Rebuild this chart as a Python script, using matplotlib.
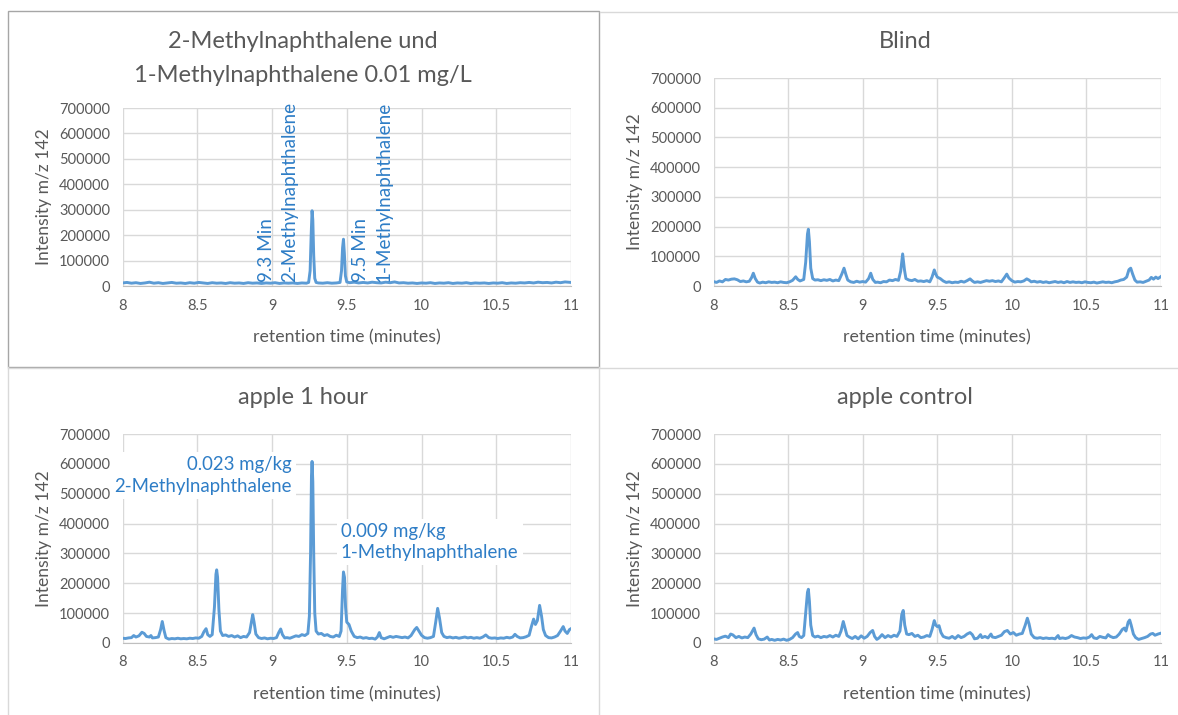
import matplotlib
matplotlib.use('Agg')
import matplotlib.pyplot as plt
from matplotlib.lines import Line2D
from matplotlib.patches import Rectangle

plt.rcParams['font.family'] = ['Lato', 'DejaVu Sans']

# chromatogram traces (retention time in min, intensity m/z 142)
standard_trace = [
    (8.00, 12000), (8.03, 14000), (8.06, 11000), (8.09, 13000), (8.12, 10000), (8.15, 12000),
    (8.18, 15000), (8.21, 11000), (8.24, 13000), (8.27, 10000), (8.30, 12000), (8.33, 14000),
    (8.36, 11000), (8.39, 12000), (8.42, 10000), (8.45, 13000), (8.48, 11000), (8.51, 14000),
    (8.54, 12000), (8.57, 10000), (8.60, 13000), (8.63, 11000), (8.66, 12000), (8.69, 10000),
    (8.72, 13000), (8.75, 11000), (8.78, 12000), (8.81, 10000), (8.84, 13000), (8.87, 11000),
    (8.90, 12000), (8.93, 10000), (8.96, 12000), (8.99, 11000), (9.02, 13000), (9.05, 10000),
    (9.08, 12000), (9.11, 11000), (9.14, 12000), (9.17, 10000), (9.20, 12000), (9.23, 11000),
    (9.245, 14000), (9.255, 60000), (9.262, 200000), (9.268, 296000), (9.273, 260000),
    (9.279, 120000), (9.286, 30000), (9.295, 14000), (9.31, 12000), (9.34, 11000), (9.37, 13000),
    (9.40, 11000), (9.43, 12000), (9.455, 14000), (9.465, 60000), (9.472, 150000), (9.478, 184000),
    (9.484, 130000), (9.491, 40000), (9.50, 16000), (9.52, 13000), (9.55, 15000), (9.58, 12000),
    (9.61, 14000), (9.64, 12000), (9.67, 15000), (9.70, 13000), (9.73, 12000), (9.76, 15000),
    (9.79, 13000), (9.82, 16000), (9.85, 12000), (9.88, 13000), (9.91, 11000), (9.94, 12000),
    (9.97, 10000), (10.00, 12000), (10.03, 11000), (10.06, 13000), (10.09, 10000), (10.12, 12000),
    (10.15, 11000), (10.18, 13000), (10.21, 10000), (10.24, 12000), (10.27, 11000), (10.30, 13000),
    (10.33, 10000), (10.36, 12000), (10.39, 11000), (10.42, 12000), (10.45, 10000), (10.48, 12000),
    (10.51, 11000), (10.54, 13000), (10.57, 10000), (10.60, 12000), (10.63, 11000), (10.66, 13000),
    (10.69, 12000), (10.72, 14000), (10.75, 12000), (10.78, 15000), (10.81, 13000), (10.84, 14000),
    (10.87, 12000), (10.90, 15000), (10.93, 13000), (10.96, 16000), (11.00, 14000),
]

blind_trace = [
    (8.00, 15000), (8.02, 12000), (8.04, 17000), (8.06, 14000), (8.08, 22000), (8.10, 20000),
    (8.12, 23000), (8.14, 24000), (8.16, 21000), (8.18, 15000), (8.20, 17000), (8.22, 14000),
    (8.24, 16000), (8.255, 28000), (8.267, 43000), (8.28, 25000), (8.295, 13000), (8.31, 10000),
    (8.33, 13000), (8.35, 11000), (8.37, 14000), (8.39, 12000), (8.41, 13000), (8.43, 11000),
    (8.45, 14000), (8.47, 12000), (8.49, 11000), (8.51, 14000), (8.53, 19000), (8.551, 31000),
    (8.565, 22000), (8.58, 17000), (8.605, 22000), (8.618, 80000), (8.63, 175000), (8.636, 191000),
    (8.643, 150000), (8.652, 60000), (8.665, 25000), (8.68, 20000), (8.70, 21000), (8.72, 18000),
    (8.74, 21000), (8.76, 19000), (8.78, 22000), (8.80, 17000), (8.82, 20000), (8.84, 18000),
    (8.86, 40000), (8.875, 60000), (8.888, 38000), (8.90, 20000), (8.92, 14000), (8.94, 12000),
    (8.96, 16000), (8.98, 13000), (9.00, 15000), (9.02, 13000), (9.04, 25000), (9.054, 43000),
    (9.068, 22000), (9.085, 12000), (9.10, 13000), (9.12, 11000), (9.14, 15000), (9.16, 14000),
    (9.18, 20000), (9.20, 18000), (9.22, 22000), (9.24, 19000), (9.255, 50000), (9.268, 108000),
    (9.28, 55000), (9.29, 25000), (9.31, 20000), (9.33, 18000), (9.35, 22000), (9.37, 16000),
    (9.39, 17000), (9.41, 15000), (9.43, 18000), (9.45, 14000), (9.465, 30000), (9.48, 54000),
    (9.49, 40000), (9.50, 30000), (9.52, 25000), (9.54, 17000), (9.56, 12000), (9.58, 14000),
    (9.60, 11000), (9.62, 13000), (9.64, 12000), (9.66, 16000), (9.68, 13000), (9.70, 18000),
    (9.72, 24000), (9.735, 17000), (9.75, 12000), (9.77, 14000), (9.79, 12000), (9.81, 15000),
    (9.83, 18000), (9.85, 16000), (9.87, 18000), (9.89, 15000), (9.91, 17000), (9.93, 14000),
    (9.95, 28000), (9.966, 40000), (9.98, 27000), (10.00, 18000), (10.02, 13000), (10.04, 15000),
    (10.06, 14000), (10.08, 17000), (10.10, 24000), (10.115, 20000), (10.13, 14000), (10.15, 16000),
    (10.17, 13000), (10.19, 15000), (10.21, 12000), (10.23, 14000), (10.25, 11000), (10.27, 13000),
    (10.29, 15000), (10.31, 12000), (10.33, 14000), (10.35, 11000), (10.37, 15000), (10.39, 12000),
    (10.41, 14000), (10.43, 12000), (10.45, 13000), (10.47, 11000), (10.49, 14000), (10.51, 12000),
    (10.53, 11000), (10.55, 13000), (10.57, 10000), (10.59, 12000), (10.61, 14000), (10.63, 12000),
    (10.65, 13000), (10.67, 11000), (10.69, 14000), (10.71, 16000), (10.73, 20000), (10.75, 22000),
    (10.77, 30000), (10.785, 55000), (10.797, 60000), (10.81, 40000), (10.825, 20000), (10.84, 13000),
    (10.86, 14000), (10.88, 12000), (10.90, 16000), (10.92, 20000), (10.935, 29000), (10.95, 23000),
    (10.965, 30000), (10.98, 25000), (11.00, 32000),
]

apple_1h_trace = [
    (8.00, 16000), (8.02, 15000), (8.04, 17000), (8.06, 18000), (8.075, 25000), (8.09, 20000),
    (8.11, 24000), (8.13, 36000), (8.145, 32000), (8.16, 22000), (8.18, 20000), (8.19, 25000),
    (8.20, 17000), (8.22, 18000), (8.24, 20000), (8.255, 45000), (8.266, 72000), (8.278, 42000),
    (8.29, 18000), (8.31, 13000), (8.33, 15000), (8.35, 14000), (8.37, 16000), (8.39, 14000),
    (8.41, 15000), (8.43, 14000), (8.45, 16000), (8.47, 15000), (8.49, 17000), (8.51, 16000),
    (8.53, 22000), (8.545, 38000), (8.559, 48000), (8.57, 28000), (8.585, 22000), (8.60, 28000),
    (8.615, 120000), (8.625, 230000), (8.63, 245000), (8.636, 220000), (8.645, 110000), (8.655, 40000),
    (8.67, 25000), (8.69, 27000), (8.71, 22000), (8.73, 25000), (8.75, 20000), (8.77, 24000),
    (8.79, 18000), (8.81, 22000), (8.83, 20000), (8.85, 35000), (8.862, 70000), (8.871, 95000),
    (8.88, 70000), (8.892, 30000), (8.91, 18000), (8.93, 15000), (8.95, 17000), (8.97, 14000),
    (8.99, 16000), (9.01, 15000), (9.03, 18000), (9.045, 35000), (9.058, 47000), (9.07, 28000),
    (9.085, 17000), (9.10, 18000), (9.12, 16000), (9.14, 20000), (9.16, 24000), (9.18, 22000),
    (9.20, 28000), (9.22, 25000), (9.24, 32000), (9.25, 90000), (9.258, 300000), (9.264, 560000),
    (9.268, 608000), (9.273, 540000), (9.279, 300000), (9.286, 100000), (9.295, 40000), (9.31, 30000),
    (9.33, 32000), (9.35, 25000), (9.37, 28000), (9.39, 22000), (9.41, 20000), (9.43, 26000),
    (9.45, 22000), (9.462, 40000), (9.472, 180000), (9.478, 238000), (9.485, 220000), (9.492, 120000),
    (9.50, 70000), (9.515, 62000), (9.53, 40000), (9.55, 22000), (9.57, 18000), (9.59, 20000),
    (9.61, 16000), (9.63, 18000), (9.65, 15000), (9.67, 16000), (9.69, 13000), (9.705, 20000),
    (9.718, 35000), (9.73, 18000), (9.75, 14000), (9.77, 18000), (9.79, 22000), (9.81, 19000),
    (9.83, 22000), (9.85, 20000), (9.87, 18000), (9.89, 20000), (9.91, 17000), (9.93, 25000),
    (9.955, 45000), (9.968, 52000), (9.985, 38000), (10.00, 26000), (10.02, 18000), (10.04, 16000),
    (10.06, 18000), (10.08, 22000), (10.095, 70000), (10.108, 116000), (10.12, 85000), (10.135, 35000),
    (10.15, 22000), (10.17, 18000), (10.19, 20000), (10.21, 17000), (10.23, 19000), (10.25, 16000),
    (10.27, 18000), (10.29, 20000), (10.31, 17000), (10.33, 19000), (10.35, 16000), (10.37, 18000),
    (10.39, 16000), (10.41, 20000), (10.43, 27000), (10.45, 18000), (10.47, 16000), (10.49, 17000),
    (10.51, 15000), (10.53, 17000), (10.55, 16000), (10.57, 19000), (10.59, 17000), (10.61, 20000),
    (10.625, 29000), (10.64, 22000), (10.66, 17000), (10.68, 18000), (10.70, 21000), (10.72, 26000),
    (10.735, 55000), (10.75, 80000), (10.762, 62000), (10.775, 75000), (10.79, 126000), (10.803, 90000),
    (10.815, 45000), (10.83, 25000), (10.85, 18000), (10.87, 17000), (10.89, 20000), (10.91, 25000),
    (10.93, 40000), (10.948, 55000), (10.96, 40000), (10.975, 32000), (10.99, 45000), (11.00, 48000),
]

apple_control_trace = [
    (8.00, 14000), (8.02, 12000), (8.04, 16000), (8.06, 20000), (8.08, 23000), (8.10, 18000),
    (8.115, 30000), (8.13, 27000), (8.15, 18000), (8.17, 22000), (8.19, 17000), (8.21, 20000),
    (8.23, 18000), (8.25, 30000), (8.272, 50000), (8.285, 28000), (8.30, 14000), (8.32, 11000),
    (8.34, 13000), (8.36, 20000), (8.375, 10000), (8.39, 12000), (8.41, 9000), (8.43, 12000),
    (8.45, 10000), (8.47, 13000), (8.49, 9000), (8.51, 12000), (8.53, 18000), (8.55, 30000),
    (8.564, 35000), (8.575, 22000), (8.59, 18000), (8.605, 25000), (8.62, 110000), (8.63, 170000),
    (8.636, 180000), (8.643, 140000), (8.652, 60000), (8.665, 25000), (8.68, 20000), (8.70, 23000),
    (8.72, 18000), (8.74, 22000), (8.76, 20000), (8.78, 25000), (8.80, 20000), (8.82, 26000),
    (8.84, 22000), (8.855, 40000), (8.87, 72000), (8.882, 50000), (8.895, 25000), (8.91, 20000),
    (8.93, 15000), (8.95, 22000), (8.97, 14000), (8.99, 24000), (9.01, 16000), (9.03, 22000),
    (9.05, 35000), (9.067, 42000), (9.08, 22000), (9.095, 12000), (9.11, 17000), (9.13, 28000),
    (9.15, 18000), (9.17, 25000), (9.19, 20000), (9.21, 26000), (9.23, 22000), (9.25, 40000),
    (9.262, 95000), (9.272, 109000), (9.282, 60000), (9.295, 30000), (9.31, 28000), (9.33, 32000),
    (9.35, 22000), (9.37, 26000), (9.39, 18000), (9.41, 20000), (9.43, 25000), (9.45, 22000),
    (9.465, 45000), (9.48, 75000), (9.49, 60000), (9.50, 55000), (9.512, 58000), (9.525, 35000),
    (9.54, 22000), (9.56, 18000), (9.58, 16000), (9.60, 22000), (9.62, 15000), (9.64, 25000),
    (9.66, 18000), (9.68, 22000), (9.70, 30000), (9.72, 35000), (9.735, 28000), (9.75, 14000),
    (9.77, 16000), (9.79, 28000), (9.80, 18000), (9.82, 22000), (9.84, 17000), (9.86, 30000),
    (9.87, 20000), (9.89, 18000), (9.91, 22000), (9.93, 26000), (9.95, 38000), (9.97, 42000),
    (9.99, 30000), (10.01, 35000), (10.03, 26000), (10.05, 30000), (10.07, 32000), (10.09, 60000),
    (10.104, 83000), (10.115, 65000), (10.13, 30000), (10.15, 18000), (10.17, 16000), (10.19, 18000),
    (10.21, 15000), (10.23, 17000), (10.25, 15000), (10.27, 16000), (10.29, 14000), (10.31, 25000),
    (10.32, 15000), (10.34, 17000), (10.36, 15000), (10.38, 18000), (10.40, 25000), (10.42, 20000),
    (10.44, 18000), (10.46, 15000), (10.48, 17000), (10.50, 16000), (10.52, 20000), (10.535, 28000),
    (10.55, 17000), (10.57, 15000), (10.59, 22000), (10.61, 19000), (10.63, 17000), (10.645, 28000),
    (10.66, 22000), (10.68, 18000), (10.70, 20000), (10.72, 30000), (10.74, 45000), (10.754, 50000),
    (10.765, 40000), (10.78, 70000), (10.79, 77000), (10.80, 60000), (10.815, 30000), (10.83, 18000),
    (10.85, 12000), (10.87, 15000), (10.89, 18000), (10.91, 22000), (10.93, 30000), (10.945, 32000),
    (10.96, 26000), (10.98, 30000), (11.00, 33000),
]

panel_titles = [['2-Methylnaphthalene und', '1-Methylnaphthalene 0.01 mg/L'], ['Blind'],
                ['apple 1 hour'], ['apple control']]
x_ticks = [8, 8.5, 9, 9.5, 10, 10.5, 11]
x_ticklabels = ['8', '8.5', '9', '9.5', '10', '10.5', '11']
y_ticks = [0, 100000, 200000, 300000, 400000, 500000, 600000, 700000]

line_blue = '#5B9BD5'
note_blue = '#2E7DC6'
grey_text = '#595959'

W, H = 1178, 715
fig = plt.figure(figsize=(W / 100, H / 100), dpi=100)

def fx(px):
    return px / W

def fy(py):
    return 1 - py / H

# plot areas in pixels: left, right, top, bottom
boxes = [(122.5, 571, 108, 286), (713.5, 1161, 78, 286),
         (122.5, 571, 434, 643), (713.5, 1161, 434, 643)]
title_pos = [(303, 42), (905, 42), (303, 398), (905, 398)]
traces = [standard_trace, blind_trace, apple_1h_trace, apple_control_trace]

axes = []
for (l, r, t, b), tr, title, (tx, ty) in zip(boxes, traces, panel_titles, title_pos):
    ax = fig.add_axes([fx(l), fy(b), fx(r - l), (b - t) / H])
    xs = [p[0] for p in tr]
    ys = [p[1] for p in tr]
    ax.plot(xs, ys, color=line_blue, lw=2.1, solid_joinstyle='round', zorder=3)
    ax.set_xlim(8, 11)
    ax.set_ylim(0, 700000)
    ax.set_xticks(x_ticks)
    ax.set_xticklabels(x_ticklabels)
    ax.set_yticks(y_ticks)
    ax.set_yticklabels([str(v) for v in y_ticks])
    ax.grid(True, color='#d9d9d9', lw=1)
    ax.set_axisbelow(True)
    for s in ['top', 'right', 'left']:
        ax.spines[s].set_visible(False)
    ax.spines['bottom'].set_color('#bfbfbf')
    ax.tick_params(length=0, labelsize=10.5, colors=grey_text)
    ax.tick_params(axis='y', pad=9)
    ax.tick_params(axis='x', pad=9)
    ax.set_xlabel('retention time (minutes)', fontsize=12.8, color=grey_text, labelpad=12)
    ax.set_ylabel('Intensity m/z 142', fontsize=12.6, color=grey_text, labelpad=5)
    for i, line in enumerate(title):
        fig.text(fx(tx), fy(ty + 33 * i), line, ha='center', va='center', fontsize=17,
                 color=grey_text)
    axes.append(ax)

# peak labels in the standard
ax = axes[0]
for x, txt in [(8.966, '9.3 Min'), (9.12, '2-Methylnaphthalene'),
               (9.595, '9.5 Min'), (9.749, '1-Methylnaphthalene')]:
    ax.text(x, 15000, txt, rotation=90, ha='center', va='bottom', fontsize=13.6,
            color=note_blue, zorder=4)

# quantities in apple 1 hour
ax = axes[2]
ax.text(9.134, 560000, '0.023 mg/kg\n2-Methylnaphthalene', ha='right', va='center',
        multialignment='right', fontsize=13.4, color=note_blue, linespacing=1.35,
        bbox=dict(facecolor='white', edgecolor='none', pad=3), zorder=4)
ax.text(9.461, 338000, '0.009 mg/kg\n1-Methylnaphthalene', ha='left', va='center',
        multialignment='left', fontsize=13.4, color=note_blue, linespacing=1.3,
        bbox=dict(facecolor='white', edgecolor='none', pad=3), zorder=4)

# chart frames
fig.patches.append(Rectangle((fx(8), fy(367)), fx(591), (367 - 11) / H, transform=fig.transFigure,
                             fill=False, edgecolor='#a6a6a6', lw=1))
for (x0, y0, x1, y1) in [(600, 12, 1178, 12), (8, 367.5, 1178, 367.5),
                         (8, 367, 8, 715), (599, 367, 599, 715)]:
    fig.lines.append(Line2D([fx(x0), fx(x1)], [fy(y0), fy(y1)], transform=fig.transFigure,
                            color='#d9d9d9', lw=1))

fig.savefig('out.png', dpi=100)
